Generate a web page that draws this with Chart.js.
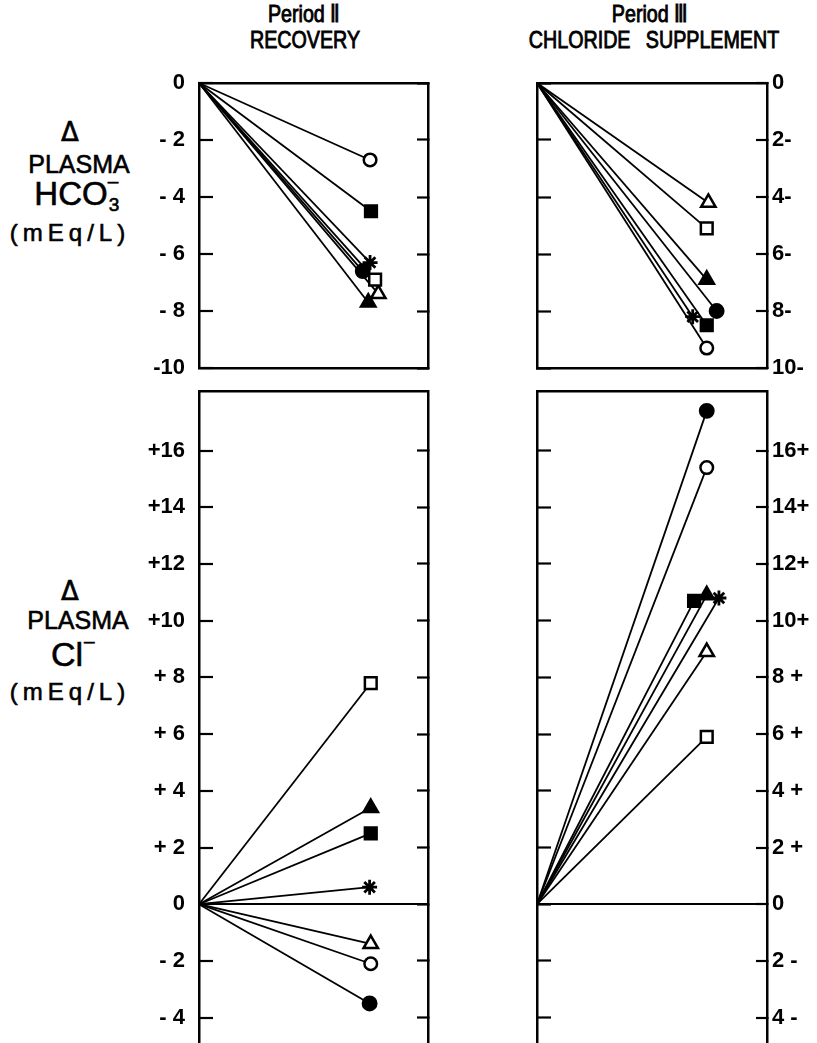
<!DOCTYPE html>
<html><head><meta charset="utf-8">
<script src="https://cdn.jsdelivr.net/npm/chart.js@4.4.0/dist/chart.umd.min.js"></script>
<style>
html,body{margin:0;padding:0;background:#fff;overflow:hidden;width:817px;height:1043px;}
#wrap{position:relative;width:817px;height:1043px;overflow:hidden;background:#fff;}
canvas{position:absolute;}
.t{position:absolute;color:#000;white-space:nowrap;line-height:1;font-family:"Liberation Sans",Arial,sans-serif;transform:translate(-50%,-50%);-webkit-text-stroke:0.6px #000;}
.title{font-size:24px;transform:translate(-50%,-50%) scaleX(0.82);-webkit-text-stroke:0.9px #000;}
</style></head>
<body><div id="wrap">
<div class="t title" style="left:304px;top:14px">Period Ⅱ</div>
<div class="t title" style="left:305px;top:40px">RECOVERY</div>
<div class="t title" style="left:650px;top:14px">Period Ⅲ</div>
<div class="t title" style="left:654px;top:40px;word-spacing:12px">CHLORIDE SUPPLEMENT</div>

<div class="t" style="left:70px;top:132px;font-size:26px;font-family:'DejaVu Sans'">Δ</div>
<div class="t" style="left:79px;top:164px;font-size:25px">PLASMA</div>
<div class="t" style="left:78px;top:191px;font-size:33px">HCO<span style="position:relative;display:inline-block;width:14px;height:33px;"><span style="position:absolute;left:0;top:-1px;font-size:19px;">–</span><span style="position:absolute;left:1px;top:23px;font-size:19px;">3</span></span></div>
<div class="t" style="left:70px;top:233px;font-size:24px;letter-spacing:5px">(mEq/L)</div>

<div class="t" style="left:70px;top:591px;font-size:26px;font-family:'DejaVu Sans'">Δ</div>
<div class="t" style="left:78px;top:620px;font-size:25px">PLASMA</div>
<div class="t" style="left:74px;top:651px;font-size:34px">Cl<span style="position:relative;display:inline-block;width:14px;height:34px;"><span style="position:absolute;left:1px;top:-1px;font-size:19px;">–</span></span></div>
<div class="t" style="left:70px;top:692px;font-size:24px;letter-spacing:5px">(mEq/L)</div>

<canvas id="tl" width="370" height="340" style="left:100px;top:55px"></canvas>
<canvas id="tr" width="307" height="340" style="left:510px;top:55px"></canvas>
<canvas id="bl" width="370" height="710" style="left:100px;top:365px"></canvas>
<canvas id="br" width="307" height="710" style="left:510px;top:365px"></canvas>
</div>
<script>
// ---- data ----
const subjects = ['open circle','filled square','asterisk','filled circle','open square','open triangle','filled triangle'];
const hco3Recovery = [-2.7, -4.5, -6.3, -6.6, -6.9, -7.4, -7.7];
const hco3Chloride = [-9.3, -8.5, -8.2, -8.0, -5.1, -4.2, -6.9];
const clRecovery   = [-2.1, 2.5, 0.6, -3.5, 7.8, -1.4, 3.4];
const clChloride   = [15.4, 10.7, 10.8, 17.4, 5.9, 8.9, 10.9];
// horizontal placement of each end marker (0 = start, 100 = right frame)
const hco3RecoveryX = [74.7, 75.1, 74.7, 71.5, 76.9, 78.3, 73.9];
const hco3ChlorideX = [73.8, 73.8, 67.7, 78.1, 73.8, 74.5, 73.8];
const clRecoveryX   = [75, 75, 74.5, 74.5, 75, 75, 75];
const clChlorideX   = [73.8, 68.3, 79.1, 73.8, 73.8, 73.8, 73.8];
// tick values and labels
const hco3TickValues  = [0, -2, -4, -6, -8, -10];
const hco3LeftLabels  = ['0', '- 2', '- 4', '- 6', '- 8', '-10'];
const hco3RightLabels = ['0', '2-', '4-', '6-', '8-', '10-'];
const clTickValues    = [16, 14, 12, 10, 8, 6, 4, 2, 0, -2, -4];
const clLeftLabels    = ['+16', '+14', '+12', '+10', '+ 8', '+ 6', '+ 4', '+ 2', '0', '- 2', '- 4'];
const clRightLabels   = ['16+', '14+', '12+', '10+', '8 +', '6 +', '4 +', '2 +', '0', '2 -', '4 -'];

// ---- styles ----
const markerStyle = {
  'open circle':     {pointStyle: 'circle',   fill: '#fff', r: 6.3},
  'filled square':   {pointStyle: 'rect',     fill: '#000', r: 8.3},
  'asterisk':        {pointStyle: 'star',     fill: '#000', r: 7.5},
  'filled circle':   {pointStyle: 'circle',   fill: '#000', r: 6.7},
  'open square':     {pointStyle: 'rect',     fill: '#fff', r: 8.3},
  'open triangle':   {pointStyle: 'triangle', fill: '#fff', r: 8.3},
  'filled triangle': {pointStyle: 'triangle', fill: '#000', r: 8.3}
};
const tickFont = {family: '"Liberation Sans", Arial, sans-serif', size: 22, weight: 'bold'};

function makePanel(id, values, xs, tickValues, labels, labelSide, cfg) {
  const otherSide = labelSide === 'left' ? 'right' : 'left';
  const setTicks = s => { s.ticks = tickValues.map(v => ({value: v})); };
  const tlLabel = labelSide === 'left' ? -14 : -11;
  const tlOther = labelSide === 'left' ? -11 : -14;
  const border = {display: true, width: 2.5, color: '#000'};
  const noEdgePad = s => { s.paddingTop = 0; s.paddingBottom = 0; s.paddingLeft = 0; s.paddingRight = 0; };
  return new Chart(document.getElementById(id), {
    type: 'scatter',
    data: {
      datasets: subjects.map((s, i) => ({
        label: s,
        data: [{x: 0, y: 0}, {x: xs[i], y: values[i]}],
        showLine: true,
        borderColor: '#000',
        borderWidth: 1.8,
        pointStyle: markerStyle[s].pointStyle,
        pointRadius: [0, markerStyle[s].r],
        pointBackgroundColor: markerStyle[s].fill,
        pointBorderColor: '#000',
        pointBorderWidth: s === 'asterisk' ? 2.8 : 2.5,
        clip: false
      }))
    },
    options: {
      responsive: false, animation: false, events: [],
      layout: {padding: cfg.padding},
      plugins: {legend: {display: false}, tooltip: {enabled: false}},
      scales: {
        x: {type: 'linear', position: 'bottom', min: 0, max: 100,
            afterFit: noEdgePad,
            ticks: {display: false}, grid: {display: false, drawTicks: false}, border},
        xTop: {type: 'linear', position: 'top', min: 0, max: 100,
            afterFit: noEdgePad,
            ticks: {display: false}, grid: {display: false, drawTicks: false}, border},
        y: {type: 'linear', position: labelSide, min: cfg.min, max: cfg.max,
            afterBuildTicks: setTicks,
            afterFit: s => { s.width = cfg.labelWidth; noEdgePad(s); },
            ticks: {callback: (v, i) => labels[i], font: tickFont, color: '#000',
                    padding: labelSide === 'left' ? 28 : 16},
            grid: {display: true, drawOnChartArea: cfg.zeroLine,
                   color: c => (c.tick && c.tick.value === 0) ? '#000' : 'rgba(0,0,0,0)',
                   lineWidth: 2, tickColor: '#000', tickWidth: 2.2, tickLength: tlLabel},
            border},
        y2: {type: 'linear', position: otherSide, min: cfg.min, max: cfg.max,
            afterBuildTicks: setTicks,
            afterFit: s => { s.width = 0; noEdgePad(s); },
            ticks: {display: false},
            grid: {display: true, drawOnChartArea: false, tickColor: '#000', tickWidth: 2.2, tickLength: tlOther},
            border}
      }
    }
  });
}

makePanel('tl', hco3Recovery, hco3RecoveryX, hco3TickValues, hco3LeftLabels, 'left',
  {padding: {left: 0, right: 42, top: 28, bottom: 27}, labelWidth: 99, min: -10, max: 0, zeroLine: false});
makePanel('tr', hco3Chloride, hco3ChlorideX, hco3TickValues, hco3RightLabels, 'right',
  {padding: {left: 27, right: 0, top: 28, bottom: 27}, labelWidth: 50, min: -10, max: 0, zeroLine: false});
makePanel('bl', clRecovery, clRecoveryX, clTickValues, clLeftLabels, 'left',
  {padding: {left: 0, right: 42, top: 26, bottom: 29}, labelWidth: 99, min: -5, max: 18.1, zeroLine: true});
makePanel('br', clChloride, clChlorideX, clTickValues, clRightLabels, 'right',
  {padding: {left: 27, right: 0, top: 26, bottom: 29}, labelWidth: 50, min: -5, max: 18.1, zeroLine: true});
</script>
</body></html>
